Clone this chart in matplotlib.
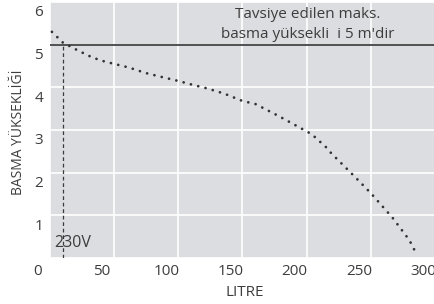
import matplotlib
matplotlib.use("Agg")
import matplotlib.pyplot as plt
from matplotlib.transforms import ScaledTranslation

plt.rcParams['font.family'] = ['Open Sans', 'DejaVu Sans']

# pump curve
litres = [1.5, 10, 22, 33, 43, 50, 62, 74, 86, 100, 111, 123, 136, 150, 160, 178, 195, 204, 215, 219, 237, 250, 267, 280, 286]
head = [5.3, 5.05, 4.86, 4.7, 4.6, 4.55, 4.46, 4.34, 4.25, 4.15, 4.06, 3.97, 3.85, 3.68, 3.61, 3.33, 3.05, 2.9, 2.6, 2.46, 1.92, 1.52, 0.94, 0.42, 0.07]

xticks = [0, 50, 100, 150, 200, 250, 300]
yticks = [0, 1, 2, 3, 4, 5, 6]
ytick_labels = ['', '1', '2', '3', '4', '5', '6']
max_head = 5
voltage_x = 10

text_col = '#3d3d3d'

fig = plt.figure(figsize=(4.35, 3.04), dpi=100)
ax = fig.add_axes([50 / 435, 46 / 304, 385 / 435, 256 / 304])
ax.set_facecolor('#dcdde0')

ax.set_xlim(0, 297)
ax.set_ylim(0, 6)
ax.set_xticks(xticks)
ax.set_yticks(yticks)
ax.set_yticklabels(ytick_labels)
ax.grid(True, color='white', linewidth=1.2)
ax.set_axisbelow(True)
for s in ax.spines.values():
    s.set_visible(False)
ax.tick_params(length=0, labelsize=11, colors=text_col, pad=0)

for lab in ax.get_xticklabels():
    lab.set_transform(lab.get_transform() + ScaledTranslation(-0.12, -0.06, fig.dpi_scale_trans))
for lab in ax.get_yticklabels():
    lab.set_transform(lab.get_transform() + ScaledTranslation(-0.07, -0.09, fig.dpi_scale_trans))

ax.axhline(max_head, color='#333333', linewidth=1.2, zorder=3)
ax.plot([voltage_x, voltage_x], [0, max_head], color='#3a3a3a', linewidth=0.9,
        linestyle=(0, (3, 2.2)), zorder=3)

ax.plot(litres, head, color='#333333', linewidth=2.0,
        linestyle=(0, (0.01, 2.7)), dash_capstyle='round', zorder=4)

ax.text(201, 5.47, "Tavsiye edilen maks.\nbasma yüksekli  i 5 m'dir", ha='center', va='center',
        fontsize=11, color=text_col, linespacing=1.45)
ax.text(3.5, 0.36, '230V', ha='left', va='center', fontsize=11.5, color=text_col)

ax.set_xlabel('LITRE', fontsize=11, color=text_col)
ax.xaxis.set_label_coords(0.506, -0.105)
ax.set_ylabel('BASMA YÜKSEKLİĞİ', fontsize=10, color=text_col)
ax.yaxis.set_label_coords(-0.062, 0.49)

fig.savefig('out.png', dpi=100)
